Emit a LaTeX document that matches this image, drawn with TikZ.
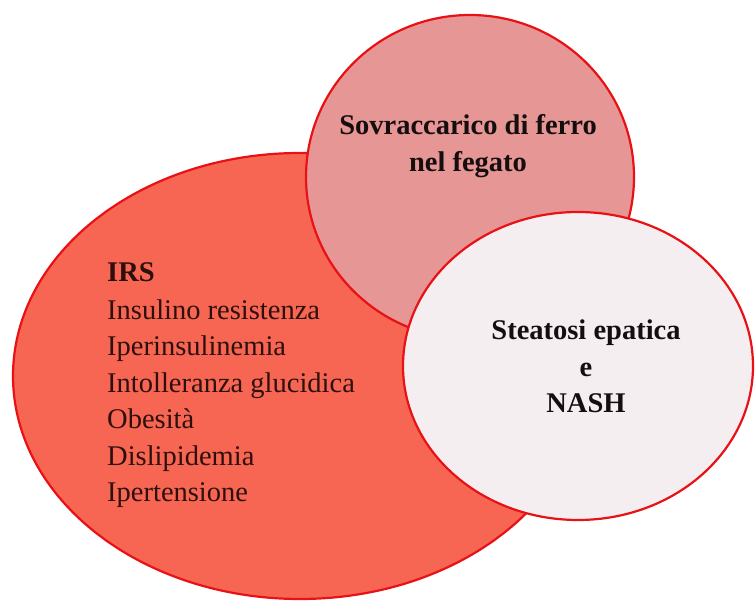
\documentclass[tikz,border=0pt]{standalone}
\usepackage{fontspec}
\setmainfont{Liberation Serif}
\usetikzlibrary{shapes.geometric}
\definecolor{ringred}{RGB}{232,18,22}
\definecolor{bigfill}{RGB}{247,102,82}
\definecolor{topfill}{RGB}{230,150,148}
\definecolor{rightfill}{RGB}{245,238,241}
\definecolor{titleink}{RGB}{22,14,14}
\definecolor{listink}{RGB}{45,16,14}
\tikzset{
  blob/.style={ellipse, draw=ringred, line width=2.2pt, inner sep=0pt},
  titletext/.style={font=\fontsize{28.5}{36}\selectfont\bfseries, text=titleink, anchor=base, inner sep=0pt},
  listtext/.style={font=\fontsize{28.5}{36}\selectfont, text=listink, anchor=base west, inner sep=0pt},
}
\begin{document}
\begin{tikzpicture}[x=1pt,y=-1pt]
\useasboundingbox (0,0) rectangle (756,601);
\fill[white] (0,0) rectangle (756,601);
% shapes
\node[blob, fill=bigfill, minimum width=574pt, minimum height=446pt] (irs) at (300,376) {};
\node[blob, fill=topfill, minimum width=328pt, minimum height=324pt] (ferro) at (470,177) {};
\node[blob, fill=rightfill, minimum width=350pt, minimum height=308pt] (nash) at (578,366) {};
% top circle text
\node[titletext] (f1) at (468,135) {Sovraccarico di ferro};
\node[titletext] (f2) at (468,172) {nel fegato};
% right circle text
\node[titletext] (n1) at (586,340) {Steatosi epatica};
\node[titletext] (n2) at (586,377) {e};
\node[titletext] (n3) at (586,413) {NASH};
% list
\node[listtext, font=\fontsize{28.5}{36}\selectfont\bfseries] (l0) at (107,282) {IRS};
\node[listtext] (l1) at (107,320) {Insulino resistenza};
\node[listtext] (l2) at (107,356) {Iperinsulinemia};
\node[listtext] (l3) at (107,393) {Intolleranza glucidica};
\node[listtext] (l4) at (107,429) {Obesità};
\node[listtext] (l5) at (107,466) {Dislipidemia};
\node[listtext] (l6) at (107,502) {Ipertensione};
\end{tikzpicture}
\end{document}
